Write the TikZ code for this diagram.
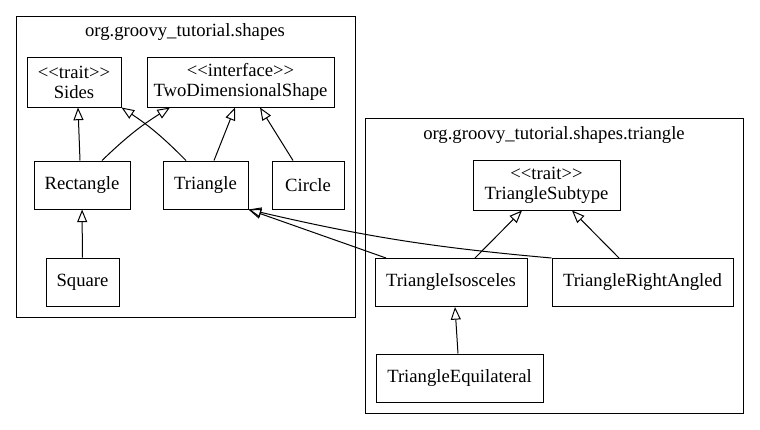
\documentclass[tikz,border=0pt]{standalone}
\usepackage{fontspec}
\setmainfont{Liberation Serif}
\usetikzlibrary{arrows.meta}

\newcommand{\stereo}[1]{<\kern0pt<#1>\kern0pt>}

\begin{document}
\begin{tikzpicture}[x=0.75pt,y=-0.75pt,
    font=\fontsize{14}{15}\selectfont,
    cls/.style={draw,line width=0.75pt,inner sep=0pt,minimum height=36pt,align=center},
    pkg/.style={draw,line width=0.75pt},
    ext/.style={line width=0.75pt,-{Triangle[open,length=9.5pt,width=7.5pt]}}]
    \useasboundingbox (0,0) rectangle (760,429);
    % packages
    \draw [pkg] (16,16) rectangle (355,317);
    \draw [pkg] (365,118) rectangle (743,413);
    \node (pshapes) at (185,32) {org.groovy\_tutorial.shapes};
    \node (ptriangle) at (554,135) {org.groovy\_tutorial.shapes.triangle};
    % classes
    \node [cls,minimum width=70.5pt,minimum height=37.5pt] (sides) at (74,82) {\stereo{trait}\\Sides};
    \node [cls,minimum width=140.25pt,minimum height=37.5pt] (twodim) at (240.5,82) {\stereo{interface}\\TwoDimensionalShape};
    \node [cls,minimum width=72pt] (rect) at (82,185) {Rectangle};
    \node [cls,minimum width=63.75pt] (tri) at (205.5,185) {Triangle};
    \node [cls,minimum width=54pt] (circle) at (308,185) {Circle};
    \node [cls,minimum width=54.75pt] (square) at (82.5,282) {Square};
    \node [cls,minimum width=110.25pt,minimum height=37.5pt] (subtype) at (546.5,185) {\stereo{trait}\\TriangleSubtype};
    \node [cls,minimum width=114pt] (iso) at (451,282.5) {TriangleIsosceles};
    \node [cls,minimum width=135.75pt] (right) at (642.5,282.5) {TriangleRightAngled};
    \node [cls,minimum width=125.25pt] (equi) at (459.5,378) {TriangleEquilateral};
    % inheritance
    \draw [ext] (square) -- (rect);
    \draw [ext] ([shift={(-2,0)}]rect.north) -- ([shift={(4,0)}]sides.south);
    \draw [ext] ([shift={(20,0)}]rect.north) to [bend left=6] ([shift={(-70.5,0)}]twodim.south);
    \draw [ext] ([shift={(-19.5,0)}]tri.north) to [bend right=6] (sides.south east);
    \draw [ext] ([shift={(8.5,0)}]tri.north) -- ([shift={(-5.5,0)}]twodim.south);
    \draw [ext] ([shift={(-15,0)}]circle.north) -- ([shift={(19.5,0)}]twodim.south);
    \draw [ext] ([shift={(-65,0)}]iso.north) -- (tri.south east);
    \draw [ext] (right.north west) to [bend left=4] (tri.south east);
    \draw [ext] ([shift={(24,0)}]iso.north) -- ([shift={(-24.5,0)}]subtype.south);
    \draw [ext] ([shift={(-23.5,0)}]right.north) -- ([shift={(25.5,0)}]subtype.south);
    \draw [ext] ([shift={(-1.5,0)}]equi.north) -- ([shift={(4,0)}]iso.south);
\end{tikzpicture}
\end{document}
